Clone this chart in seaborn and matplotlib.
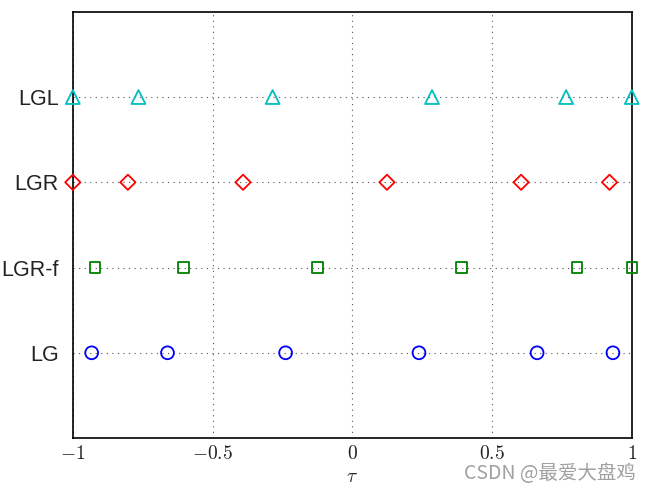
import seaborn as sns
import matplotlib.pyplot as plt
import pandas as pd

# collocation points (6 nodes each)
methods = ["LG", "LGR-f", "LGR", "LGL"]
lg = [-0.9325, -0.6612, -0.2386, 0.2386, 0.6612, 0.9325]
lgr_f = [-0.9203, -0.6039, -0.1240, 0.3909, 0.8029, 1.0]
lgr = [-1.0, -0.8029, -0.3909, 0.1240, 0.6039, 0.9203]
lgl = [-1.0, -0.7650, -0.2852, 0.2852, 0.7650, 1.0]
xticks = [-1, -0.5, 0, 0.5, 1]
xtick_labels = ["$-1$", "$-0.5$", "$0$", "$0.5$", "$1$"]

rows = []
for k, (name, pts) in enumerate(zip(methods, [lg, lgr_f, lgr, lgl])):
    for p in pts:
        rows.append({"tau": p, "level": k + 1, "Method": name})
df = pd.DataFrame(rows)

sns.set_style("white")
plt.rcParams["font.family"] = ["Liberation Sans", "DejaVu Sans"]
plt.rcParams["mathtext.fontset"] = "cm"

fig = plt.figure(figsize=(6.5, 4.9), dpi=100)
ax = fig.add_axes([0.112, 0.106, 0.86, 0.87])

colors = {"LG": "#0000ff", "LGR-f": "#008000", "LGR": "#ff0000", "LGL": "#00bfbf"}
markers = {"LG": "o", "LGR-f": "s", "LGR": "D", "LGL": "^"}
sizes = {"LG": 85, "LGR-f": 55, "LGR": 60, "LGL": 100}
for name in methods:
    sub = df[df["Method"] == name]
    sns.scatterplot(data=sub, x="tau", y="level", ax=ax, marker=markers[name],
                    s=sizes[name], facecolors="none", edgecolor=colors[name],
                    linewidth=1.3, legend=False, zorder=3, clip_on=False)

ax.set_xlim(-1, 1)
ax.set_ylim(0, 5)
ax.set_xticks(xticks)
ax.set_xticklabels(xtick_labels, fontsize=14)
ax.set_yticks([1, 2, 3, 4])
ax.set_yticklabels(methods, fontsize=15.5)
ax.grid(True, linestyle=(0, (1, 4)), color="#555555", linewidth=0.8)
ax.tick_params(direction="in", length=4, width=0.8, colors="black", labelcolor="#222222")
ax.tick_params(axis="y", pad=10)
ax.tick_params(axis="x", pad=5)
for s in ax.spines.values():
    s.set_color("black")
    s.set_linewidth(1.2)
ax.set_xlabel(r"$\tau$", fontsize=14, labelpad=4)
ax.set_ylabel("")

fig.text(0.978, 0.012, "CSDN @最爱大盘鸡", ha="right", va="bottom", fontsize=14,
         color="#a0a0a0", family=["Noto Sans CJK SC", "DejaVu Sans"])

plt.savefig("out.png", dpi=100)
